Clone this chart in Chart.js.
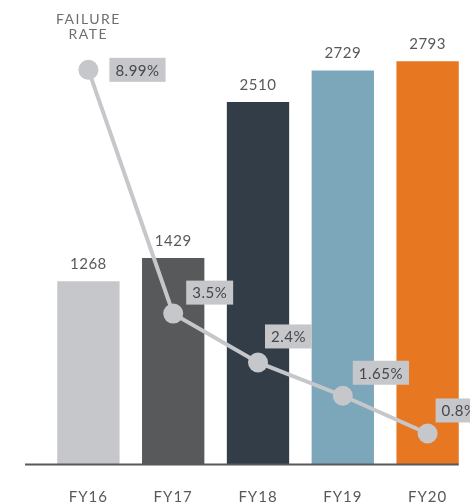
<!DOCTYPE html>
<html>
<head>
<meta charset="utf-8">
<script src="https://cdn.jsdelivr.net/npm/chart.js@4/dist/chart.umd.min.js"></script>
<style>
  html, body { margin: 0; padding: 0; background: #fff; overflow: hidden; }
  #wrap { width: 480px; height: 504px; }
</style>
</head>
<body>
<div id="wrap"><canvas id="chart"></canvas></div>
<script>
const years = ["FY16", "FY17", "FY18", "FY19", "FY20"];
const units = [1268, 1429, 2510, 2729, 2793];
const failureRate = [8.99, 3.5, 2.4, 1.65, 0.8];
const rateLabels = ["8.99%", "3.5%", "2.4%", "1.65%", "0.8%"];
const barColors = ["#c6c7ca", "#58595b", "#333d48", "#7ca7bb", "#e87722"];

const FONT = "Lato, 'Open Sans', sans-serif";
const TEXT_GREY = "#58595b";
const LINE_GREY = "#c6c7cb";

// box position for each rate label, relative to its point: [left gap, vertical shift]
const boxOffsets = [[21, 0], [13, -21], [7, -26], [10, -23], [8, -23]];

const extras = {
  id: "extras",
  beforeDraw(chart) {
    // wider tracking for the axis labels
    chart.ctx.letterSpacing = "1px";
  },
  afterDatasetsDraw(chart) {
    const ctx = chart.ctx;
    const area = chart.chartArea;
    const bars = chart.getDatasetMeta(1).data;
    const pts = chart.getDatasetMeta(0).data;

    ctx.save();
    // baseline under the bars
    const last = bars[bars.length - 1];
    ctx.strokeStyle = TEXT_GREY;
    ctx.lineWidth = 2;
    ctx.beginPath();
    ctx.moveTo(area.left - 21, area.bottom + 0.5);
    ctx.lineTo(last.x + last.width / 2, area.bottom + 0.5);
    ctx.stroke();

    // unit counts above the bars
    ctx.fillStyle = TEXT_GREY;
    ctx.font = "15px " + FONT;
    ctx.letterSpacing = "0.5px";
    ctx.textAlign = "center";
    ctx.textBaseline = "middle";
    bars.forEach((b, i) => ctx.fillText(String(units[i]), b.x, b.y - 17));

    // rate labels in grey boxes
    ctx.textAlign = "left";
    pts.forEach((p, i) => {
      const [dx, dy] = boxOffsets[i];
      const w = ctx.measureText(rateLabels[i]).width + 12;
      const h = 24;
      const x = p.x + dx;
      const cy = p.y + dy;
      ctx.fillStyle = LINE_GREY;
      ctx.fillRect(x, cy - h / 2, w, h);
      ctx.fillStyle = "#45474b";
      ctx.fillText(rateLabels[i], x + 6, cy + 1);
    });

    // series caption over the first point
    ctx.fillStyle = "#6d6e71";
    ctx.font = "14px " + FONT;
    ctx.letterSpacing = "1.5px";
    ctx.textAlign = "center";
    ctx.fillText("FAILURE", pts[0].x, area.top + 2);
    ctx.fillText("RATE", pts[0].x, area.top + 17);
    ctx.restore();
  }
};

new Chart(document.getElementById("chart"), {
  data: {
    labels: years,
    datasets: [
      {
        type: "line",
        data: failureRate,
        yAxisID: "y2",
        order: 0,
        borderColor: LINE_GREY,
        borderWidth: 4,
        pointRadius: 10,
        pointBackgroundColor: LINE_GREY,
        pointBorderWidth: 0,
        tension: 0,
        clip: false
      },
      {
        type: "bar",
        data: units,
        yAxisID: "y",
        order: 1,
        backgroundColor: barColors,
        categoryPercentage: 1,
        barPercentage: 0.735
      }
    ]
  },
  options: {
    responsive: true,
    maintainAspectRatio: false,
    animation: false,
    layout: { padding: { top: 17, left: 46, right: 6, bottom: -26 } },
    plugins: {
      legend: { display: false },
      tooltip: { enabled: false }
    },
    scales: {
      x: {
        grid: { display: false, drawTicks: false },
        border: { display: false },
        ticks: {
          padding: 24,
          color: TEXT_GREY,
          font: { family: FONT, size: 15 }
        }
      },
      y: { display: false, min: 0, max: 3100 },
      y2: { display: false, min: 0.113, max: 10.18 }
    }
  },
  plugins: [extras]
});
</script>
</body>
</html>
